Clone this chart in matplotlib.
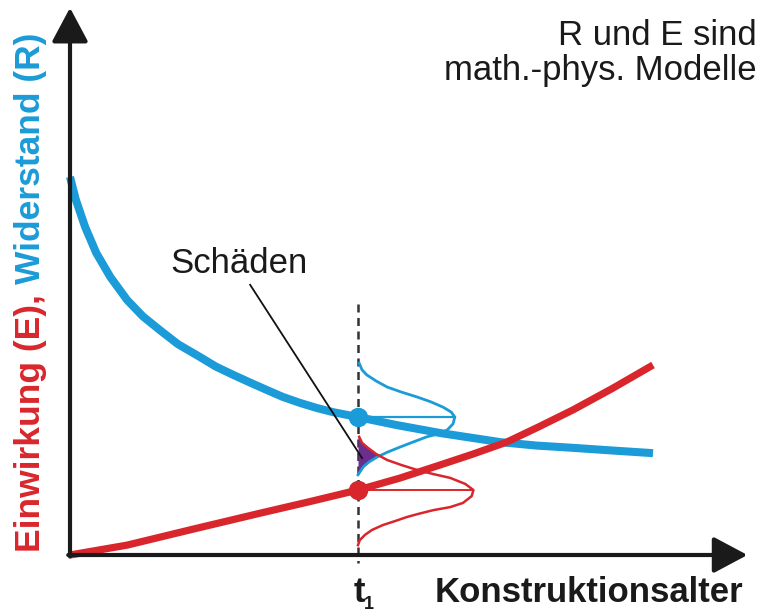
import numpy as np
import matplotlib
matplotlib.use('Agg')
import matplotlib.pyplot as plt

plt.rcParams['font.family'] = ['Liberation Sans', 'DejaVu Sans']

# Widerstand R (blue) and Einwirkung E (red) over Konstruktionsalter
blue_x = [0, 0.1, 0.26, 0.45, 0.69, 0.98, 1.25, 1.54, 1.85, 2.23, 2.5, 2.80, 3.1, 3.38, 3.65,
          3.95, 4.23, 4.51, 4.94, 5.6, 6.35, 7.38, 8.0, 8.63, 9.3, 10.0]
blue_y = [9.95, 9.35, 8.63, 7.95, 7.32, 6.71, 6.28, 5.92, 5.55, 5.21, 4.96, 4.74, 4.53, 4.34, 4.16,
          4.00, 3.87, 3.76, 3.63, 3.42, 3.21, 2.97, 2.88, 2.82, 2.75, 2.68]
red_x = [0, 0.98, 2.11, 3.26, 4.1, 4.94, 5.65, 6.35, 6.9, 7.49, 8.05, 8.63, 9.3, 10.0]
red_y = [0, 0.26, 0.68, 1.10, 1.40, 1.71, 2.02, 2.37, 2.65, 2.97, 3.38, 3.82, 4.38, 5.0]

t1 = 4.94
r_t1 = 3.63
e_t1 = 1.71

# distributions at t1 (value, width to the right of t1)
blue_dist_y = [5.05, 4.87, 4.74, 4.58, 4.42, 4.29, 4.16, 4.03, 3.89, 3.76, 3.63, 3.45, 3.29,
               3.18, 3.11, 2.97, 2.84, 2.71, 2.58, 2.45, 2.32, 2.11]
blue_dist_w = [0.02, 0.07, 0.15, 0.31, 0.50, 0.74, 1.01, 1.25, 1.46, 1.60, 1.66, 1.63, 1.53,
               1.36, 1.18, 0.94, 0.72, 0.51, 0.33, 0.19, 0.09, 0.0]
red_dist_y = [3.11, 2.95, 2.82, 2.66, 2.50, 2.37, 2.24, 2.13, 2.03, 1.87, 1.71, 1.55, 1.37,
              1.26, 1.18, 1.08, 1.00, 0.89, 0.79, 0.66, 0.53, 0.39, 0.26]
red_dist_w = [0.02, 0.07, 0.17, 0.31, 0.50, 0.74, 1.01, 1.29, 1.58, 1.84, 1.98, 1.95, 1.80,
              1.58, 1.29, 1.03, 0.84, 0.63, 0.43, 0.24, 0.12, 0.03, 0.0]

BLUE = '#1b9bd7'
RED = '#d9262c'
PURPLE = '#6b2d8f'

W, H = 766, 615
ox, oy = 70, 555      # origin in pixels
sx, sy = 58.3, 38.0   # pixels per unit

fig = plt.figure(figsize=(W / 100, H / 100), dpi=100)
ax = fig.add_axes([0, 0, 1, 1])
ax.set_xlim(-ox / sx, (W - ox) / sx)
ax.set_ylim(-(H - oy) / sy, oy / sy)
ax.axis('off')

def fx(px):
    return px / W

def fy(py):
    return 1 - py / H

# axes with arrows
arr = dict(arrowstyle='-|>,head_length=0.6,head_width=0.32', color='#1a1a1a', lw=3,
           mutation_scale=35, shrinkA=0, shrinkB=0)
ax.annotate('', xy=(11.62, 0), xytext=(-0.03, 0), arrowprops=arr, zorder=5)
ax.annotate('', xy=(0, 14.4), xytext=(0, -0.04), arrowprops=arr, zorder=5)

# t1 dashed line
ax.plot([t1, t1], [6.6, -0.22], color='#333333', lw=1.8, dashes=(3.2, 2.2), zorder=2)

# main curves
ax.plot(blue_x, blue_y, color=BLUE, lw=5.8, solid_capstyle='butt', solid_joinstyle='round', zorder=3)
ax.plot(red_x, red_y, color=RED, lw=5.2, solid_capstyle='butt', solid_joinstyle='round', zorder=4)

# overlap area
ys = np.linspace(red_dist_y[0], blue_dist_y[-1], 80)
bw = np.interp(ys, blue_dist_y[::-1], blue_dist_w[::-1])
rw = np.interp(ys, red_dist_y[::-1], red_dist_w[::-1])
ax.fill_betweenx(ys, t1, t1 + np.minimum(bw, rw), color=PURPLE, lw=0, zorder=3)

# distributions
ax.plot(t1 + np.array(blue_dist_w), blue_dist_y, color=BLUE, lw=2, zorder=3)
ax.plot(t1 + np.array(red_dist_w), red_dist_y, color=RED, lw=1.8, zorder=3)
ax.plot([t1, t1 + max(blue_dist_w)], [r_t1, r_t1], color=BLUE, lw=1.6, zorder=3)
ax.plot([t1, t1 + max(red_dist_w)], [e_t1, e_t1], color=RED, lw=1.4, zorder=3)

ax.plot([t1], [r_t1], 'o', color=BLUE, ms=13, zorder=6)
ax.plot([t1], [e_t1], 'o', color=RED, ms=13, zorder=6)

# Schäden pointer
ax.plot([3.09, 5.01], [7.11, 2.55], color='#111111', lw=1.3, zorder=5)
fig.text(fx(239), fy(273), 'Schäden', fontsize=25, ha='center', va='baseline', color='#1a1a1a')

fig.text(fx(757), fy(45), 'R und E sind', fontsize=25, ha='right', va='baseline', color='#1a1a1a')
fig.text(fx(757), fy(80), 'math.-phys. Modelle', fontsize=25, ha='right', va='baseline', color='#1a1a1a')

fig.text(fx(743), fy(602), 'Konstruktionsalter', fontsize=25, fontweight='bold', ha='right',
         va='baseline', color='#1a1a1a')
fig.text(fx(359), fy(602), 't', fontsize=25, fontweight='bold', ha='center', va='baseline', color='#1a1a1a')
fig.text(fx(369), fy(609), '1', fontsize=13, fontweight='bold', ha='center', va='baseline', color='#1a1a1a')

# two-coloured y label
t_red = fig.text(fx(40), fy(552), 'Einwirkung (E), ', fontsize=25.5, fontweight='bold', color=RED,
                 rotation=90, rotation_mode='anchor', ha='left', va='baseline')
fig.canvas.draw()
bb = t_red.get_window_extent()
fig.text(fx(40), bb.y1 / H, 'Widerstand (R)', fontsize=25.5, fontweight='bold', color=BLUE,
         rotation=90, rotation_mode='anchor', ha='left', va='baseline')

fig.savefig('out.png', dpi=100)
